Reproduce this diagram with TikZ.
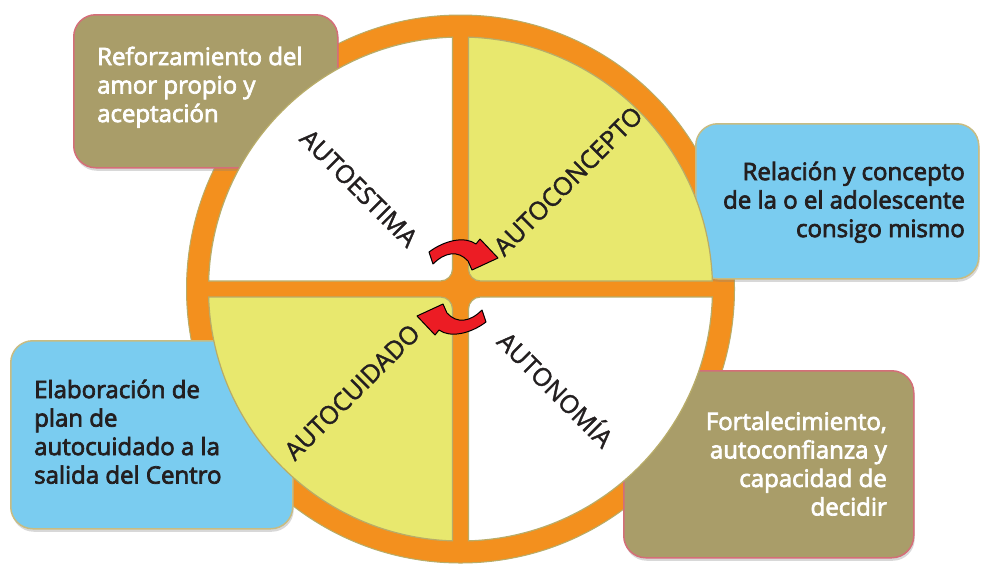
\documentclass[tikz,border=0pt]{standalone}
\usepackage{fontspec}
\setmainfont{Open Sans}
\newfontfamily\boxfont{Open Sans}[FakeBold=3]
\newfontfamily\labelfont{Open Sans}[FakeBold=1.5]
\usetikzlibrary{shadows}
\definecolor{ringorange}{RGB}{243,144,30}
\definecolor{panelyellow}{RGB}{232,232,110}
\definecolor{panelline}{RGB}{184,172,104}
\definecolor{olivefill}{RGB}{169,157,105}
\definecolor{oliveline}{RGB}{212,110,120}
\definecolor{bluefill}{RGB}{122,204,240}
\definecolor{blueline}{RGB}{200,188,130}
\definecolor{arrowred}{RGB}{236,28,36}
\definecolor{darktext}{RGB}{35,31,32}
\begin{document}
\begin{tikzpicture}[x=1pt,y=-1pt,
  box/.style={rounded corners=22pt, line width=1.5pt, inner sep=0pt, anchor=north west,
    drop shadow={shadow xshift=1pt, shadow yshift=-3pt, opacity=0.3}},
  olivebox/.style={box, fill=olivefill, draw=oliveline},
  bluebox/.style={box, fill=bluefill, draw=blueline},
  boxtext/.style={font=\boxfont\fontsize{24}{28.5}\selectfont, inner sep=0pt},
  quadlabel/.style={font=\labelfont\fontsize{25}{30}\selectfont, inner sep=0pt, text=darktext},
  panel/.style={line width=1.2pt, draw=panelline},
  redarrow/.style={fill=arrowred, draw=black, line width=1pt, line join=round}]
\useasboundingbox (0,0) rectangle (981,563);
\clip (0,0) rectangle (981,563);
\fill[white] (0,0) rectangle (981,563);

% orange disc
\draw[fill=ringorange, draw=panelline, line width=1pt] (460.5,289) circle[radius=274];

% boxes
\node[olivebox, minimum width=264pt, minimum height=153pt] (reforzbox) at (73,14) {};
\node[boxtext, text=white, align=left, anchor=north west] (reforztxt) at (97,46.5)
  {Reforzamiento del\\amor propio y\\aceptación};
\node[bluebox, minimum width=283pt, minimum height=155pt] (relbox) at (695,123) {};
\node[boxtext, text=darktext, align=right, anchor=north east] (reltxt) at (965,161.5)
  {Relación y concepto\\de la o el adolescente\\consigo mismo};
\node[bluebox, minimum width=282pt, minimum height=188pt] (elabbox) at (10,340) {};
\node[boxtext, text=darktext, align=left, anchor=north west] (elabtxt) at (34,379.5)
  {Elaboración de\\plan de\\autocuidado a la\\salida del Centro};
\node[olivebox, minimum width=290pt, minimum height=187pt] (fortbox) at (623,370) {};
\node[boxtext, text=white, align=right, anchor=north east] (forttxt) at (887,411.5)
  {Fortalecimiento,\\autoconfianza y\\capacidad de\\decidir};

% quadrant panels
\def\panelpath{(-251.87,-8) arc[start angle=181.82, end angle=268.18, radius=252]
  -- (-8,-20) arc[start angle=0, end angle=90, radius=12] -- cycle}
\begin{scope}[shift={(460.5,289)}]
  \path[panel, fill=white] \panelpath;
  \begin{scope}[xscale=-1]\path[panel, fill=panelyellow] \panelpath;\end{scope}
  \begin{scope}[yscale=-1]\path[panel, fill=panelyellow] \panelpath;\end{scope}
  \begin{scope}[xscale=-1,yscale=-1]\path[panel, fill=white] \panelpath;\end{scope}
\end{scope}

% labels
\node[quadlabel, rotate=-45] (autoestima) at (359,188) {AUTOESTIMA};
\node[quadlabel, rotate=45] (autoconcepto) at (568,181) {AUTOCONCEPTO};
\node[quadlabel, rotate=45] (autocuidado) at (352,392) {AUTOCUIDADO};
\node[quadlabel, rotate=-45] (autonomia) at (557,388) {AUTONOMÍA};

% arrows
\def\arrowpath{(429,252) .. controls (445,240) and (465,236) .. (476,244) -- (480,239)
  -- (498,258) -- (472,270) -- (468,261) .. controls (458,250) and (445,252) .. (433,264) -- cycle}
\path[redarrow] \arrowpath;
\begin{scope}[rotate around={180:(457.5,287)}]
  \path[redarrow] \arrowpath;
\end{scope}
\end{tikzpicture}
\end{document}
